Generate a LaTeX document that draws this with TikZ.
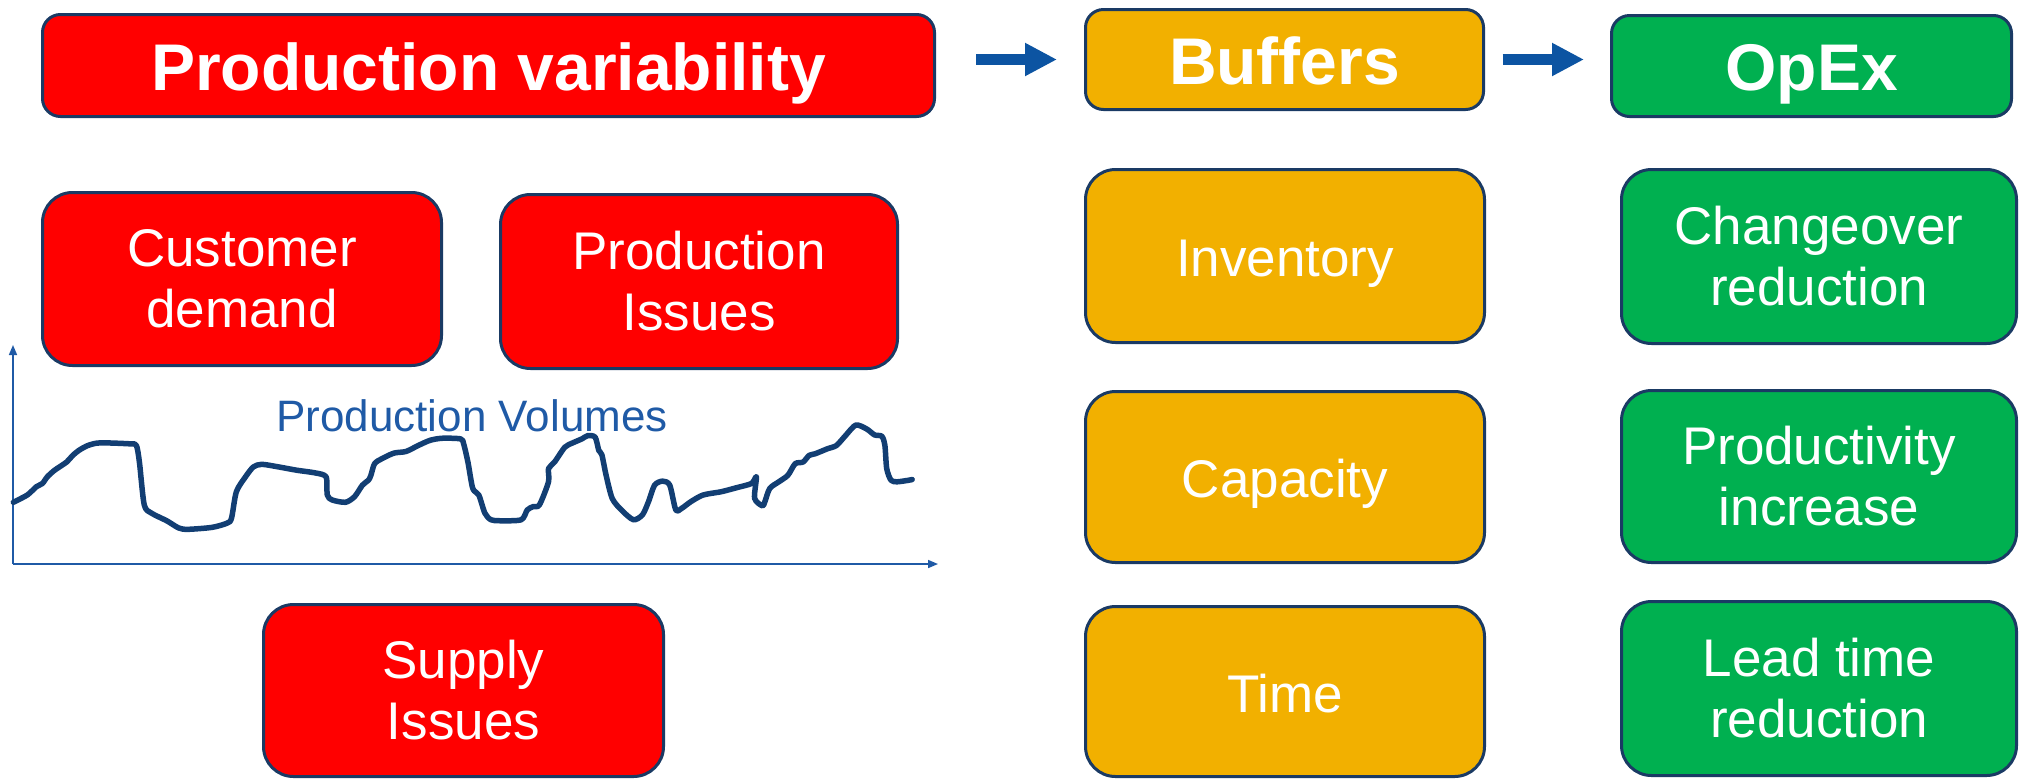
\documentclass[tikz,border=0pt]{standalone}
\usepackage{fontspec}
\setmainfont{Liberation Sans}
\usetikzlibrary{arrows.meta}

\definecolor{boxred}{RGB}{255,0,0}
\definecolor{boxgold}{RGB}{242,176,0}
\definecolor{boxgreen}{RGB}{0,176,80}
\definecolor{rim}{RGB}{26,58,100}
\definecolor{flow}{RGB}{12,84,162}
\definecolor{axisblue}{RGB}{31,90,166}
\definecolor{curveblue}{RGB}{18,62,115}

\begin{document}
\begin{tikzpicture}[x=1pt,y=-1pt,
  box/.style={draw=rim, line width=3pt, rounded corners=30pt, text=white,
    align=center, inner sep=0pt, font=\fontsize{53}{61}\selectfont,
    execute at begin node={\rule{0pt}{46pt}}},
  oneline/.style={text height=41pt, text depth=0pt},
  titlebox/.style={box, rounded corners=18pt, text height=49pt, text depth=0pt,
    font=\fontsize{66}{70}\selectfont\bfseries},
  redbox/.style={fill=boxred},
  goldbox/.style={fill=boxgold},
  greenbox/.style={fill=boxgreen},
  flowarrow/.style={color=flow, line width=11pt,
    -{Triangle[length=32pt,width=31pt]}},
  axisline/.style={draw=axisblue, line width=1.6pt,
    -{Triangle[length=10pt,width=8pt]}},
  volume/.style={draw=curveblue, line width=5.5pt, line join=round, line cap=round}
]
\useasboundingbox (0,0) rectangle (2020,780);

% header row
\node[titlebox, redbox, minimum width=892pt, minimum height=102pt] (pv) at (488.5,65.5) {Production variability};
\node[titlebox, goldbox, minimum width=398pt, minimum height=100pt] (buf) at (1284.5,59.5) {Buffers};
\node[titlebox, greenbox, minimum width=400pt, minimum height=101pt] (opex) at (1811.5,66) {OpEx};

\draw[flowarrow, shorten <=40pt, shorten >=27pt] (pv.east |- buf.west) -- (buf.west);
\draw[flowarrow, shorten <=17.5pt, shorten >=26pt] (buf.east) -- (buf.east -| opex.west);

% sources of variability
\node[box, redbox, minimum width=399pt, minimum height=173pt] (cust) at (242,279) {Customer\\demand};
\node[box, redbox, minimum width=397pt, minimum height=174pt] (pissue) at (699,281.5) {Production\\Issues};
\node[box, redbox, minimum width=400pt, minimum height=172pt] (supply) at (463.5,690.5) {Supply\\Issues};

% buffers
\node[box, oneline, goldbox, minimum width=399pt, minimum height=173pt] (inv) at (1285,256) {Inventory};
\node[box, oneline, goldbox, minimum width=399pt, minimum height=171pt] (cap) at (1285,477) {Capacity};
\node[box, oneline, goldbox, minimum width=399pt, minimum height=170pt] (time) at (1285,691.5) {Time};

% operational excellence levers
\node[box, greenbox, minimum width=395pt, minimum height=174pt] (chg) at (1819,256.5) {Changeover\\reduction};
\node[box, greenbox, minimum width=395pt, minimum height=172pt] (prod) at (1819,476.5) {Productivity\\increase};
\node[box, greenbox, minimum width=395pt, minimum height=174pt] (lead) at (1819,688.5) {Lead time\\reduction};

% production volume chart
\coordinate (origin) at (13,564);
\coordinate (ytop) at (13,345);
\coordinate (xend) at (938,564);
\draw[axisline] (origin) -- (ytop);
\draw[axisline] (origin) -- (xend);
\node[text=axisblue, anchor=base, inner sep=0pt, font=\fontsize{44}{48}\selectfont] (vol) at (472,431) {Production Volumes};

\begin{scope}[yshift=-330pt, x=0.6061pt, y=-0.33pt]
\draw[volume] plot[smooth, tension=0.45] coordinates {
 (22,522) (45,500) (60,475) (70,465) (78,445) (90,425) (110,400) (120,380)
 (130,365) (145,350) (165,342) (215,345) (225,350) (230,400) (238,530)
 (250,555) (275,578) (295,600) (310,604) (350,598) (375,585) (382,570)
 (390,490) (405,445) (418,415) (432,407) (460,415) (490,425) (520,433)
 (538,445) (540,500) (548,515) (570,522) (585,505) (598,470) (608,455)
 (612,440) (618,405) (630,390) (650,373) (670,368) (690,350) (710,334)
 (730,328) (760,330) (765,345) (772,400) (780,480) (790,500) (800,555)
 (810,575) (825,578) (860,575) (870,545) (880,535) (890,530) (905,460)
 (905,420) (915,400) (932,355) (945,342) (960,330) (970,320) (982,325)
 (988,365) (993,378) (1000,440) (1010,510) (1025,545) (1045,575) (1060,560)
 (1070,520) (1080,470) (1093,458) (1105,470) (1115,545) (1125,540) (1140,520)
 (1160,500) (1190,490) (1215,478) (1240,465) (1248,445) (1245,510) (1258,533)
 (1262,520) (1270,480) (1285,460) (1300,440) (1312,405) (1325,400) (1335,380)
 (1345,375) (1365,360) (1380,350) (1395,320) (1412,288) (1430,300) (1443,318)
 (1455,322) (1460,350) (1463,420) (1470,455) (1480,460) (1500,455) (1505,453)};
\end{scope}
\end{tikzpicture}
\end{document}
